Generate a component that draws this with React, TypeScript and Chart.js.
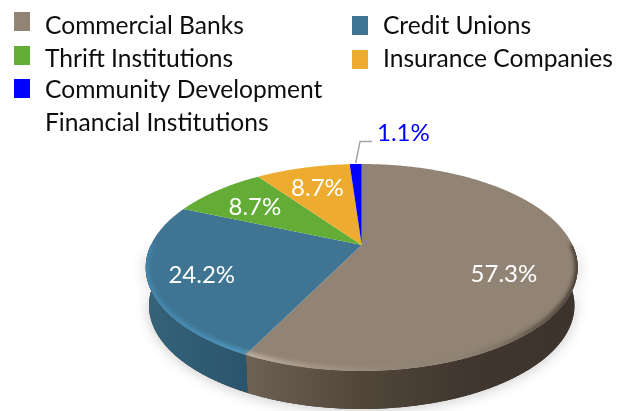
import React, { useEffect, useRef } from "react";
import { Chart, registerables } from "chart.js";

Chart.register(...registerables);

const categories = [
  "Commercial Banks",
  "Credit Unions",
  "Thrift Institutions",
  "Insurance Companies",
  "Community Development Financial Institutions",
];
const shares = [57.3, 24.2, 8.7, 8.7, 1.1];
const shareLabels = ["57.3%", "24.2%", "8.7%", "8.7%", "1.1%"];
const sliceColors = ["#918475", "#3f7593", "#63ad37", "#edab30", "#0000ff"];

// Projection of the pie disc (a perspective view of a circle)
const APEX_X = 361.7;
const APEX_Y = 245;
const RX = 210.8;
const RY = 98.6;
const K = 0.2174;
const DEPTH = 38;
const FONT = "Lato, Carlito, sans-serif";

function project(angle: number, r = 1) {
  const u = Math.cos(angle) * r;
  const v = Math.sin(angle) * r;
  const w = 1 / (1 - K * v);
  return { x: APEX_X + RX * u * w, y: APEX_Y + RY * v * w };
}
function bottom(angle: number) {
  const p = project(angle);
  return { x: APEX_X + (p.x - APEX_X) * 0.985, y: p.y + DEPTH };
}
function arcPoints(a0: number, a1: number, f = project) {
  const n = Math.max(2, Math.ceil(Math.abs(a1 - a0) / 0.01));
  const pts = [] as { x: number; y: number }[];
  for (let i = 0; i <= n; i++) pts.push(f(a0 + ((a1 - a0) * i) / n));
  return pts;
}
function trace(ctx: CanvasRenderingContext2D, pts: { x: number; y: number }[], start = true) {
  pts.forEach((p, i) => (i === 0 && start ? ctx.moveTo(p.x, p.y) : ctx.lineTo(p.x, p.y)));
}
const sliceOffsets = [
  { r: 0.67, dx: 0, dy: 14 },
  { r: 0.78, dx: 4, dy: 2 },
  { r: 0.68, dx: -5, dy: 1 },
  { r: 0.68, dx: -2, dy: -1 },
];

const pie3d = {
  id: "pie3d",
  beforeDatasetsDraw(chart: any) {
    const ctx: CanvasRenderingContext2D = chart.ctx;
    const arcs = chart.getDatasetMeta(0).data;
    ctx.save();

    // soft shadow
    const [lo, hi] = [0, Math.PI];
    ctx.save();
    ctx.shadowColor = "rgba(0,0,0,0.22)";
    ctx.shadowBlur = 14;
    ctx.shadowOffsetY = 1;
    ctx.fillStyle = "#3c332c";
    ctx.beginPath();
    trace(ctx, arcPoints(lo, hi, bottom));
    trace(ctx, arcPoints(hi, lo), false);
    ctx.closePath();
    ctx.fill();
    ctx.restore();

    // side wall of the slices in front
    arcs.forEach((arc: any, i: number) => {
      const a0 = Math.max(arc.startAngle, 0);
      const a1 = Math.min(arc.endAngle, Math.PI);
      if (a1 <= a0) return;
      const g = ctx.createLinearGradient(146, 0, 578, 0);
      if (i === 0) {
        g.addColorStop(0.24, "#6d6154");
        g.addColorStop(0.5, "#514639");
        g.addColorStop(0.75, "#40362e");
        g.addColorStop(1, "#3c332c");
      } else {
        g.addColorStop(0, "#34637b");
        g.addColorStop(0.24, "#2a546b");
      }
      ctx.fillStyle = g;
      ctx.beginPath();
      trace(ctx, arcPoints(a0, a1, bottom));
      trace(ctx, arcPoints(a1, a0), false);
      ctx.closePath();
      ctx.fill();
    });

    // top face
    arcs.forEach((arc: any, i: number) => {
      ctx.fillStyle = sliceColors[i];
      ctx.beginPath();
      ctx.moveTo(APEX_X, APEX_Y);
      trace(ctx, arcPoints(arc.startAngle, arc.endAngle), false);
      ctx.closePath();
      ctx.fill();
    });

    // bevel along the front rim, kept inside the top face
    ctx.save();
    ctx.beginPath();
    trace(ctx, arcPoints(0, Math.PI * 2));
    ctx.closePath();
    ctx.clip();
    ctx.filter = "blur(2px)";
    arcs.forEach((arc: any, i: number) => {
      const a0 = Math.max(arc.startAngle, 0);
      const a1 = Math.min(arc.endAngle, Math.PI);
      if (a1 <= a0) return;
      const g = ctx.createLinearGradient(146, 0, 578, 0);
      if (i === 0) {
        g.addColorStop(0.24, "rgba(205,190,170,0.9)");
        g.addColorStop(0.45, "rgba(175,160,145,0.5)");
        g.addColorStop(0.7, "rgba(130,118,105,0.1)");
        g.addColorStop(0.88, "rgba(60,50,40,0.55)");
        g.addColorStop(1, "rgba(50,40,32,0.95)");
      } else {
        g.addColorStop(0, "rgba(70,140,185,0.8)");
        g.addColorStop(0.24, "rgba(85,165,210,0.85)");
      }
      ctx.strokeStyle = g;
      ctx.lineWidth = 5;
      ctx.beginPath();
      const rim = (a: number) => {
        const p = project(a);
        return { x: p.x, y: p.y - 1 };
      };
      trace(ctx, arcPoints(a0, a1, rim));
      ctx.stroke();
    });
    ctx.restore();

    ctx.restore();
    return false;
  },
  afterDraw(chart: any) {
    const ctx: CanvasRenderingContext2D = chart.ctx;
    const arcs = chart.getDatasetMeta(0).data;
    ctx.save();
    ctx.textBaseline = "middle";
    ctx.textAlign = "center";
    ctx.font = `24px ${FONT}`;

    // value labels
    arcs.forEach((arc: any, i: number) => {
      const o = sliceOffsets[i];
      if (!o) return;
      const p = project((arc.startAngle + arc.endAngle) / 2, o.r);
      ctx.fillStyle = "#ffffff";
      ctx.fillText(shareLabels[i], p.x + o.dx, p.y + o.dy);
    });

    // small slice: leader line and outside label
    ctx.strokeStyle = "#a6a6a6";
    ctx.lineWidth = 1.5;
    ctx.beginPath();
    ctx.moveTo(355.7, 163);
    ctx.lineTo(360, 141.5);
    ctx.lineTo(372, 141.5);
    ctx.stroke();
    ctx.fillStyle = "#0000ff";
    ctx.textAlign = "left";
    ctx.fillText(shareLabels[4], 377, 133);

    // legend
    const legend = [
      { i: 0, mx: 14, my: 12, tx: 45, ty: 26 },
      { i: 1, mx: 352, my: 16, tx: 383, ty: 26 },
      { i: 2, mx: 14, my: 46, tx: 45, ty: 59 },
      { i: 3, mx: 352, my: 50, tx: 383, ty: 59 },
      { i: 4, mx: 14, my: 79, tx: 45, ty: 90 },
    ];
    ctx.font = `24.6px ${FONT}`;
    legend.forEach((l) => {
      ctx.fillStyle = sliceColors[l.i];
      ctx.fillRect(l.mx, l.my, 16, 19);
      ctx.fillStyle = "#0d0d0d";
      if (l.i === 4) {
        const name = categories[4];
        ctx.fillText(name.slice(0, 21), l.tx, l.ty);
        ctx.fillText(name.slice(22), l.tx, l.ty + 33);
      } else {
        ctx.fillText(categories[l.i], l.tx, l.ty);
      }
    });
    ctx.restore();
  },
};

export default function App() {
  const ref = useRef<HTMLCanvasElement>(null);
  useEffect(() => {
    document.body.style.margin = "0";
    document.body.style.background = "#ffffff";
    const chart = new Chart(ref.current!, {
      type: "pie",
      data: {
        labels: categories,
        datasets: [{ data: shares, backgroundColor: sliceColors, borderWidth: 0 }],
      },
      options: {
        responsive: false,
        animation: false,
        rotation: 0,
        plugins: { legend: { display: false }, tooltip: { enabled: false } },
      },
      plugins: [pie3d],
    } as any);
    return () => chart.destroy();
  }, []);
  return <canvas ref={ref} width={620} height={411} style={{ display: "block" }} />;
}
